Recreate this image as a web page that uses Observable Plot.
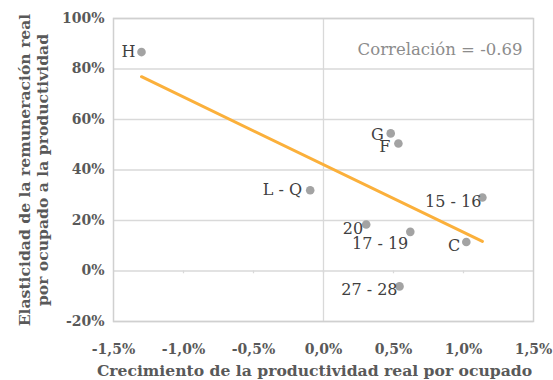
<!DOCTYPE html>
<html>
<head>
<meta charset="utf-8">
<script src="https://cdn.jsdelivr.net/npm/d3@7"></script>
<script src="https://cdn.jsdelivr.net/npm/@observablehq/plot@0.6"></script>
<style>
  html, body { margin: 0; padding: 0; background: #ffffff; }
  #chart svg { display: block; }
</style>
</head>
<body>
<div id="chart"></div>
<script>
// Data
const labels = ["H", "L - Q", "G", "F", "15 - 16", "20", "17 - 19", "C", "27 - 28"];
const productividad = [-1.30, -0.095, 0.48, 0.535, 1.135, 0.305, 0.62, 1.02, 0.543];
const elasticidad = [86.7, 32.0, 54.5, 50.5, 29.1, 18.4, 15.5, 11.5, -6.1];
const xTicks = [-1.5, -1.0, -0.5, 0.0, 0.5, 1.0, 1.5];
const yTicks = [-20, 0, 20, 40, 60, 80, 100];
const xTitle = "Crecimiento de la productividad real por ocupado";
const yTitle = "Elasticidad de la remuneración real\npor ocupado a la productividad";
const corrText = "Correlación = -0.69";

const data = labels.map((l, i) => ({label: l, x: productividad[i], y: elasticidad[i]}));

// label offsets (style, not data)
const offsets = {
  "H": [-6, 0], "L - Q": [-8, 0], "G": [-7, 1], "F": [-8, 3],
  "15 - 16": [-1, 4], "20": [-3, 4], "17 - 19": [-2, 12], "C": [-6, 4], "27 - 28": [-2, 3]
};

const font = "DejaVu Serif";
const fmtX = d => d.toFixed(1).replace(".", ",") + "%";
const fmtY = d => d + "%";

const labelMarks = data.map(d => Plot.text([d], {
  x: "x", y: "y", text: "label", textAnchor: "end",
  dx: offsets[d.label][0], dy: offsets[d.label][1],
  fill: "#404040", fontSize: 16, fontFamily: font
}));

const chart = Plot.plot({
  width: 553,
  height: 380,
  marginLeft: 113,
  marginRight: 20,
  marginTop: 18,
  marginBottom: 59,
  style: {fontFamily: font, background: "#ffffff", overflow: "visible"},
  x: {domain: [-1.5, 1.5]},
  y: {domain: [-20, 100]},
  marks: [
    Plot.gridY(yTicks, {stroke: "#d9d9d9", strokeOpacity: 1, strokeWidth: 1.3}),
    Plot.ruleX([0], {stroke: "#d9d9d9", strokeWidth: 1.3}),
    Plot.ruleX(xTicks.slice(1, -1), {x: d => d, y1: 0, y2: -1.1, stroke: "#d9d9d9", strokeWidth: 1.3}),
    Plot.frame({stroke: "#d0d0d0", strokeWidth: 1.5}),
    Plot.axisY(yTicks, {tickSize: 0, tickPadding: 9, tickFormat: fmtY, fontSize: 14, fontWeight: "bold", fill: "#595959", label: null}),
    Plot.axisX(xTicks, {tickSize: 0, tickPadding: 23, tickFormat: fmtX, fontSize: 14, fontWeight: "bold", fill: "#595959", label: null}),
    Plot.text([xTitle], {frameAnchor: "bottom", dx: -9, dy: 49, lineAnchor: "middle", fontSize: 15.6, fontWeight: "bold", fill: "#595959"}),
    Plot.text([yTitle], {frameAnchor: "left", dx: -80, rotate: -90, textAnchor: "middle", lineAnchor: "middle", lineHeight: 1.15, fontSize: 15.6, fontWeight: "bold", fill: "#595959"}),
    Plot.text([corrText], {frameAnchor: "top-right", dx: -11, dy: 31, textAnchor: "end", lineAnchor: "middle", fontSize: 16.5, fill: "#8c8c8c"}),
    Plot.linearRegressionY(data, {x: "x", y: "y", stroke: "#fbb03b", strokeWidth: 3, ci: 0}),
    Plot.dot(data, {x: "x", y: "y", r: 4.3, fill: "#a3a3a3", stroke: "none"}),
    ...labelMarks
  ]
});
document.getElementById("chart").appendChild(chart);
</script>
</body>
</html>
